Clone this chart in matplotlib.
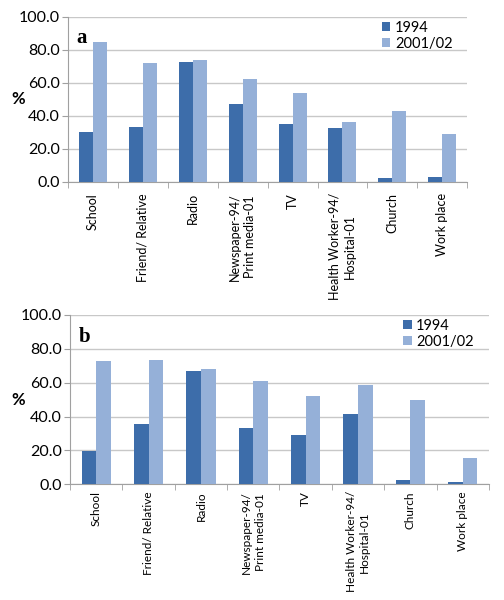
import matplotlib
matplotlib.use("Agg")
import matplotlib.pyplot as plt
import numpy as np

categories = ["School", "Friend/ Relative", "Radio", "Newspaper-94/\nPrint media-01",
              "TV", "Health Worker-94/\nHospital-01", "Church", "Work place"]
a_1994 = [30.3, 33.5, 72.7, 47.1, 35.0, 32.9, 2.2, 3.0]
a_2001 = [85.0, 72.3, 73.7, 62.4, 53.9, 36.5, 43.2, 28.7]
b_1994 = [19.9, 35.6, 66.8, 33.4, 29.1, 41.4, 2.7, 1.2]
b_2001 = [72.6, 73.4, 67.8, 60.9, 52.4, 58.6, 50.0, 15.6]
series_labels = ["1994", "2001/02"]
yticks = [0, 20, 40, 60, 80, 100]
ytick_labels = ["0.0", "20.0", "40.0", "60.0", "80.0", "100.0"]

plt.rcParams['font.family'] = ['Lato', 'DejaVu Sans']
narrow = ['Liberation Sans Narrow', 'Lato', 'DejaVu Sans']

dark = "#3D6DAA"
light = "#95B0D8"
grid_c = "#C8C8C8"

fig = plt.figure(figsize=(5.04, 6.0), dpi=100)

def panel(rect, v1, v2, letter, xfs, xpad):
    ax = fig.add_axes(rect)
    x = np.arange(len(categories))
    w = 0.28
    ax.bar(x - w / 2, v1, w, color=dark, label=series_labels[0], zorder=3)
    ax.bar(x + w / 2, v2, w, color=light, label=series_labels[1], zorder=3)
    ax.set_xlim(-0.5, len(categories) - 0.5)
    ax.set_ylim(0, 100)
    ax.set_yticks(yticks)
    ax.set_yticklabels(ytick_labels, fontsize=11.5)
    ax.yaxis.grid(True, color=grid_c, linewidth=1.0, zorder=0)
    ax.set_axisbelow(True)
    ax.set_xticks(x)
    ax.set_xticklabels(categories, rotation=90, fontsize=xfs, va='top', ha='center',
                       multialignment='center', linespacing=1.3, family=narrow)
    ax.tick_params(axis='x', length=0, pad=xpad)
    ax.set_xticks(np.arange(len(categories) + 1) - 0.5, minor=True)
    ax.tick_params(axis='x', which='minor', length=4, color='#A0A0A0')
    ax.tick_params(axis='y', length=4, color='#A0A0A0', pad=2)
    for s in ['top', 'right']:
        ax.spines[s].set_visible(False)
    ax.spines['left'].set_color('#A0A0A0')
    ax.spines['bottom'].set_color('#A0A0A0')
    ax.set_ylabel("%", fontsize=12, fontweight='bold', rotation=0, va='center', ha='center')
    ax.yaxis.set_label_coords(-0.125, 0.5)
    ax.text(0.02, 0.93, letter, transform=ax.transAxes, fontsize=15, fontweight='bold',
            family='Liberation Serif', va='top', ha='left')
    ax.legend(loc='upper right', frameon=False, fontsize=10.5, handlelength=0.6,
              handleheight=0.6, handletextpad=0.3, labelspacing=0.15,
              bbox_to_anchor=(0.985, 1.03), borderaxespad=0.2)
    return ax

panel([0.135, 0.697, 0.792, 0.275], a_1994, a_2001, "a", 9.0, 8)
panel([0.139, 0.193, 0.831, 0.282], b_1994, b_2001, "b", 8.5, 5)

fig.savefig("out.png", dpi=100)
